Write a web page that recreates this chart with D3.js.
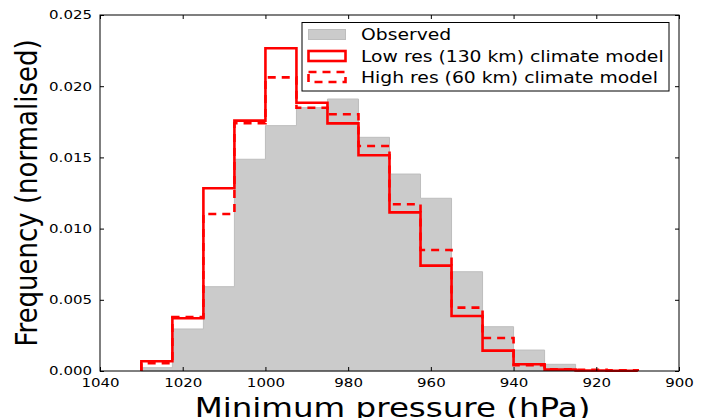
<!DOCTYPE html>
<html lang="en">
<head>
    <meta charset="UTF-8">
    <title>Minimum pressure histogram</title>
    <script src="https://d3js.org/d3.v7.min.js"></script>
    <style>
        body { margin: 0; background: #fff; }
        text { font-family: "DejaVu Sans", sans-serif; fill: #000; }
    </style>
</head>
<body>
    <svg width="704" height="418"></svg>
    <script>
        // bin edges (hPa), high pressure on the left
        const binEdges = [1030, 1022.5, 1015, 1007.5, 1000, 992.5, 985, 977.5, 970,
                          962.5, 955, 947.5, 940, 932.5, 925, 917.5, 910];
        // normalised frequency per bin
        const observed = [0.00023, 0.00295, 0.00592, 0.01487, 0.01723, 0.01849, 0.0191, 0.01641,
                          0.01383, 0.01213, 0.00697, 0.00311, 0.00147, 0.00047, 0, 0];
        const lowRes = [0.00068, 0.0037, 0.01283, 0.01758, 0.02266, 0.01884, 0.01739, 0.01515,
                        0.01114, 0.0074, 0.00386, 0.00143, 0.00047, 0.0001, 0.00003, 0.00002];
        const highRes = [0.00054, 0.00378, 0.01103, 0.0174, 0.02062, 0.01849, 0.01803, 0.0158,
                         0.01171, 0.0085, 0.00445, 0.00232, 0.0004, 0.00012, 0.00008, 0.00005];
        const xTicks = [1040, 1020, 1000, 980, 960, 940, 920, 900];
        const yTicks = [0, 0.005, 0.010, 0.015, 0.020, 0.025];
        const legendLabels = ["Observed", "Low res (130 km) climate model", "High res (60 km) climate model"];

        const plotL = 100, plotR = 679, plotT = 15, plotB = 371;
        const stretch = 1.25; // the figure's text is drawn a bit wide

        const svg = d3.select("svg");
        const x = d3.scaleLinear().domain([1040, 900]).range([plotL, plotR]);
        const y = d3.scaleLinear().domain([0, 0.025]).range([plotB, plotT]);

        function widen(sel) {
            sel.each(function() {
                const len = this.getComputedTextLength();
                d3.select(this).attr("textLength", len * stretch).attr("lengthAdjust", "spacingAndGlyphs");
            });
        }

        // step outline points for a histogram
        function stepPoints(vals) {
            const pts = [[binEdges[0], 0]];
            vals.forEach((v, i) => {
                pts.push([binEdges[i], v]);
                pts.push([binEdges[i + 1], v]);
            });
            pts.push([binEdges[binEdges.length - 1], 0]);
            return pts;
        }
        const line = d3.line().x(d => x(d[0])).y(d => y(d[1]));

        // observed (filled)
        svg.append("path")
            .attr("d", line(stepPoints(observed)) + "Z")
            .attr("fill", "#cbcbcb")
            .attr("stroke", "#bdbdbd")
            .attr("stroke-width", 1);

        svg.append("path")
            .attr("d", line(stepPoints(lowRes)))
            .attr("fill", "none")
            .attr("stroke", "#ff0000")
            .attr("stroke-width", 2.6);

        svg.append("path")
            .attr("d", line(stepPoints(highRes)))
            .attr("fill", "none")
            .attr("stroke", "#ff0000")
            .attr("stroke-width", 2.6)
            .attr("stroke-dasharray", "8,6");

        // axes, ticks pointing inward on all four sides
        const gx = svg.append("g").attr("transform", `translate(0,${plotB})`)
            .call(d3.axisBottom(x).tickValues(xTicks).tickSizeInner(-4).tickSizeOuter(0).tickPadding(7).tickFormat(d3.format("d")));
        const gy = svg.append("g").attr("transform", `translate(${plotL},0)`)
            .call(d3.axisLeft(y).tickValues(yTicks).tickSizeInner(-4).tickSizeOuter(0).tickPadding(8).tickFormat(d3.format(".3f")));
        svg.append("g").attr("transform", `translate(0,${plotT})`)
            .call(d3.axisTop(x).tickValues(xTicks).tickSizeInner(-4).tickSizeOuter(0).tickFormat(""));
        svg.append("g").attr("transform", `translate(${plotR},0)`)
            .call(d3.axisRight(y).tickValues(yTicks).tickSizeInner(-4).tickSizeOuter(0).tickFormat(""));
        svg.selectAll(".domain").remove();
        svg.selectAll(".tick line").attr("stroke", "#000");
        svg.selectAll(".tick text").style("font-size", "12px").style("font-family", "DejaVu Sans").attr("fill", "#000");
        widen(gx.selectAll(".tick text"));
        widen(gy.selectAll(".tick text"));

        svg.append("rect")
            .attr("x", plotL).attr("y", plotT)
            .attr("width", plotR - plotL).attr("height", plotB - plotT)
            .attr("fill", "none").attr("stroke", "#000").attr("stroke-width", 1);

        // axis titles
        svg.append("text")
            .attr("x", (plotL + plotR) / 2 + 3).attr("y", 417)
            .attr("text-anchor", "middle")
            .style("font-size", "26px")
            .text("Minimum pressure (hPa)")
            .call(widen);
        svg.append("text")
            .attr("transform", `translate(37,${(plotT + plotB) / 2}) scale(1.18,1) rotate(-90)`)
            .attr("text-anchor", "middle")
            .style("font-size", "26px")
            .text("Frequency (normalised)");

        // legend
        const lg = svg.append("g");
        lg.append("rect")
            .attr("x", 302).attr("y", 22.5).attr("width", 367).attr("height", 68.5)
            .attr("fill", "#fff").attr("stroke", "#000").attr("stroke-width", 1);
        const rowY = [34.5, 56, 77];
        lg.append("rect").attr("x", 308.5).attr("y", rowY[0] - 5).attr("width", 37).attr("height", 10)
            .attr("fill", "#cbcbcb").attr("stroke", "#bdbdbd");
        lg.append("rect").attr("x", 308.5).attr("y", rowY[1] - 5).attr("width", 37).attr("height", 10)
            .attr("fill", "none").attr("stroke", "#ff0000").attr("stroke-width", 2.6);
        lg.append("rect").attr("x", 308.5).attr("y", rowY[2] - 5).attr("width", 37).attr("height", 10)
            .attr("fill", "none").attr("stroke", "#ff0000").attr("stroke-width", 2.6).attr("stroke-dasharray", "8,6");
        lg.selectAll("text.lab").data(legendLabels).enter().append("text")
            .attr("class", "lab")
            .attr("x", 361)
            .attr("y", (d, i) => rowY[i] + 5.5)
            .style("font-size", "15px")
            .text(d => d)
            .call(widen);
    </script>
</body>
</html>
